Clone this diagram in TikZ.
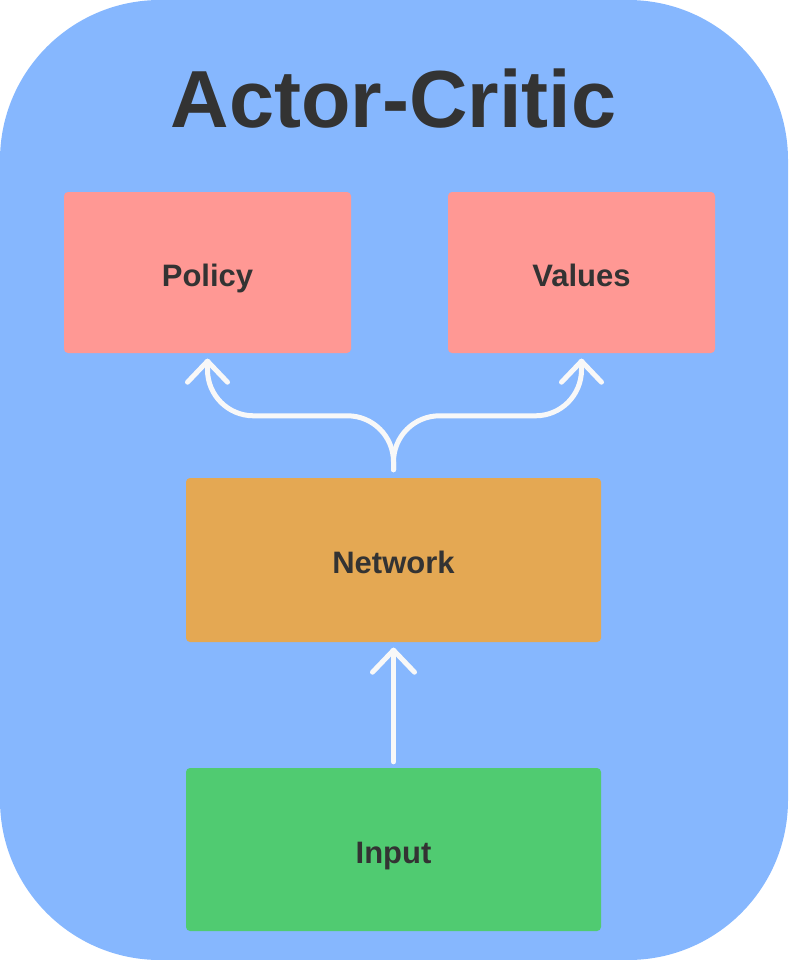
\documentclass[tikz,border=0pt]{standalone}
\usepackage{fontspec}
\setmainfont{Liberation Sans}
\definecolor{bgblue}{HTML}{86B7FE}
\definecolor{pinkbox}{HTML}{FF9894}
\definecolor{orangebox}{HTML}{E4A853}
\definecolor{greenbox}{HTML}{50CB71}
\definecolor{txt}{HTML}{333333}
\definecolor{flowc}{HTML}{F8F8F8}
\begin{document}
\begin{tikzpicture}[x=1pt,y=-1pt,
  box/.style={rounded corners=4pt, inner sep=0pt, text=txt,
    font=\fontsize{31}{31}\selectfont\bfseries, text height=27.2pt, text depth=0pt},
  flow/.style={draw=flowc, line width=5pt, line cap=round, line join=round}]
\useasboundingbox (0,0) rectangle (788,960);
\fill[bgblue, rounded corners=160pt] (0,0) rectangle (788,960);
\node[anchor=base, text=txt, font=\fontsize{81}{81}\selectfont\bfseries, inner sep=0pt] (title) at (393.5,128) {Actor-Critic};
\node[box, fill=pinkbox, minimum width=287pt, minimum height=161pt] (pol) at (207.5,272.5) {Policy};
\node[box, fill=pinkbox, minimum width=267pt, minimum height=161pt] (val) at (581.5,272.5) {Values};
\node[box, fill=orangebox, minimum width=415pt, minimum height=164pt] (net) at (393.5,560) {Network};
\node[box, fill=greenbox, minimum width=415pt, minimum height=163pt] (inp) at (393.5,849.5) {Input};
% input -> network
\draw[flow] ([yshift=6pt]inp.north) -- ([yshift=-8pt]net.south);
\draw[flow] ([shift={(-21pt,-30pt)}]net.south) -- ([yshift=-8pt]net.south) -- ([shift={(21pt,-30pt)}]net.south);
% network -> policy / values
\draw[flow, rounded corners=46pt] ([yshift=8pt]net.north) -- ++(0pt,54pt) -| ([yshift=-8pt]pol.south);
\draw[flow, rounded corners=46pt] ([yshift=8pt]net.north) -- ++(0pt,54pt) -| ([yshift=-8pt]val.south);
\draw[flow] ([shift={(-20pt,-29pt)}]pol.south) -- ([yshift=-8pt]pol.south) -- ([shift={(20pt,-29pt)}]pol.south);
\draw[flow] ([shift={(-20pt,-29pt)}]val.south) -- ([yshift=-8pt]val.south) -- ([shift={(20pt,-29pt)}]val.south);
\end{tikzpicture}
\end{document}
